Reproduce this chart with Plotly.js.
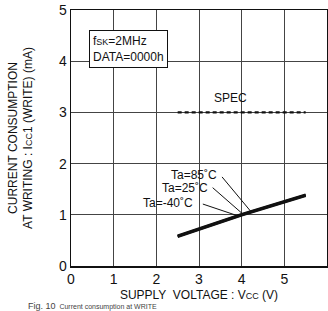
<!DOCTYPE html>
<html><head><meta charset="utf-8">
<script src="https://cdn.plot.ly/plotly-3.0.1.min.js"></script>
<style>html,body{margin:0;padding:0;background:#fff;}#c{width:328px;height:311px;}</style>
</head><body><div id="c"></div>
<script>
const voltage = [2.5, 4.0, 5.5];
const icc_85 = [0.59, 1.01, 1.39];
const icc_25 = [0.58, 1.00, 1.38];
const icc_m40 = [0.57, 0.99, 1.37];
const specX = [2.5, 5.5];
const specY = [3, 3];
const xTicks = [0, 1, 2, 3, 4, 5, 6];
const yTicks = [0, 1, 2, 3, 4, 5];

const F = 'Liberation Sans, Arial, sans-serif';
const lineStyle = {color: '#111', width: 2.6};
const traces = [
  {x: voltage, y: icc_85, mode: 'lines', line: lineStyle, name: 'Ta=85°C', showlegend: false},
  {x: voltage, y: icc_25, mode: 'lines', line: lineStyle, name: 'Ta=25°C', showlegend: false},
  {x: voltage, y: icc_m40, mode: 'lines', line: lineStyle, name: 'Ta=-40°C', showlegend: false},
  {x: specX, y: specY, mode: 'lines', line: {color: '#111', width: 2.2, dash: '4px,3px'}, name: 'SPEC', showlegend: false}
];

const small = s => "<span style='font-size:9px'>" + s + "</span>";
const layout = {
  width: 328, height: 311,
  margin: {l: 71, r: 1, t: 10, b: 45},
  paper_bgcolor: '#fff', plot_bgcolor: '#fff',
  font: {family: F, color: '#111', size: 14},
  xaxis: {
    range: [0, 6], tickvals: xTicks, ticktext: xTicks.map(String),
    showgrid: true, gridcolor: '#444', gridwidth: 1,
    showline: true, linecolor: '#111', linewidth: 1.5, mirror: true,
    ticks: '', zeroline: false, fixedrange: true,
    tickfont: {size: 14, family: F},
    title: {text: 'SUPPLY  VOLTAGE : V' + small('CC') + ' (V)', font: {size: 12, family: F}, standoff: 4}
  },
  yaxis: {
    range: [0, 5], tickvals: yTicks, ticktext: yTicks.map(String),
    showgrid: true, gridcolor: '#444', gridwidth: 1,
    showline: true, linecolor: '#111', linewidth: 1.5, mirror: true,
    ticks: '', zeroline: false, fixedrange: true,
    tickfont: {size: 14, family: F},
    title: {text: 'CURRENT CONSUMPTION<br>AT WRITING : I' + small('CC') + '1 (WRITE) (mA)', font: {size: 12, family: F}, standoff: 23}
  },
  shapes: [
    {type: 'line', xref: 'x', yref: 'y', x0: 3.54, y0: 1.74, x1: 4.21, y1: 1.07, line: {color: '#111', width: 1}},
    {type: 'line', xref: 'x', yref: 'y', x0: 3.32, y0: 1.53, x1: 4.02, y1: 1.02, line: {color: '#111', width: 1}},
    {type: 'line', xref: 'x', yref: 'y', x0: 3.09, y0: 1.21, x1: 3.91, y1: 0.98, line: {color: '#111', width: 1}}
  ],
  annotations: [
    {x: 0.42, y: 4.24, xref: 'x', yref: 'y', xanchor: 'left', yanchor: 'middle', align: 'left', showarrow: false,
     text: 'f' + small('SK') + '=2MHz<br>DATA=0000h', font: {size: 12, family: F},
     bgcolor: '#fff', bordercolor: '#111', borderwidth: 1, borderpad: 3},
    {x: 3.73, y: 3.28, xref: 'x', yref: 'y', showarrow: false, text: 'SPEC', font: {size: 12, family: F}},
    {x: 3.48, y: 1.78, xref: 'x', yref: 'y', xanchor: 'right', showarrow: false, text: 'Ta=85˚C', font: {size: 12, family: F}},
    {x: 3.25, y: 1.52, xref: 'x', yref: 'y', xanchor: 'right', showarrow: false, text: 'Ta=25˚C', font: {size: 12, family: F}},
    {x: 2.9, y: 1.23, xref: 'x', yref: 'y', xanchor: 'right', showarrow: false, text: 'Ta=-40˚C', font: {size: 12, family: F}},
    {x: -0.17, y: -0.1797, xref: 'paper', yref: 'paper', xanchor: 'left', yanchor: 'bottom', showarrow: false, borderpad: 0,
     text: "<span style='font-size:9px'>Fig. 10</span>  Current consumption at WRITE", font: {size: 7, family: F, color: '#444'}}
  ]
};
Plotly.newPlot('c', traces, layout, {displayModeBar: false, staticPlot: true});
</script></body></html>
